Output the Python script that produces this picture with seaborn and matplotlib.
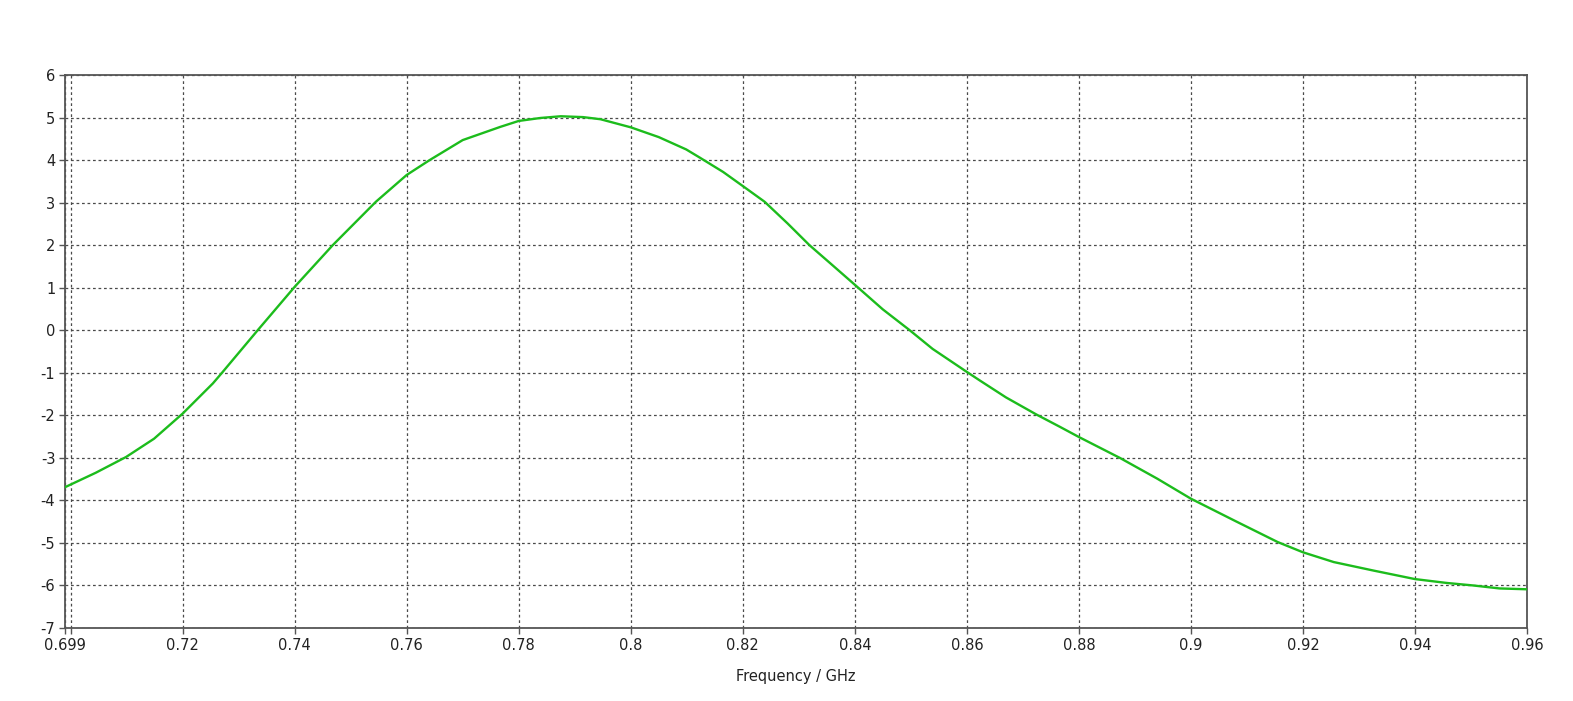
import numpy as np
import pandas as pd
import matplotlib
matplotlib.use("Agg")
import matplotlib.pyplot as plt
import seaborn as sns

# curve
freq_ghz = [0.699, 0.7045, 0.7099, 0.7149, 0.72, 0.7254, 0.7269, 0.7334, 0.74,
            0.7468, 0.7545, 0.76, 0.7641, 0.770, 0.7767, 0.78, 0.7839, 0.7875,
            0.7915, 0.7946, 0.80, 0.805, 0.8099, 0.8123, 0.8165, 0.82, 0.8239,
            0.8280, 0.8319, 0.8360, 0.8406, 0.8450, 0.8498, 0.8539, 0.86, 0.8623,
            0.8670, 0.8724, 0.8766, 0.88, 0.8873, 0.8940, 0.90, 0.9080, 0.9155,
            0.92, 0.9255, 0.9326, 0.94, 0.9456, 0.9504, 0.9551, 0.96]
value = [-3.69, -3.35, -2.98, -2.55, -1.96, -1.25, -1.02, 0.0, 1.02,
         2.0, 3.02, 3.65, 4.0, 4.47, 4.78, 4.92, 4.99, 5.03,
         5.01, 4.96, 4.77, 4.54, 4.25, 4.06, 3.72, 3.39, 3.02,
         2.51, 2.0, 1.53, 1.0, 0.49, 0.0, -0.44, -0.98, -1.18,
         -1.58, -1.98, -2.27, -2.51, -3.0, -3.49, -3.96, -4.49, -4.98,
         -5.22, -5.45, -5.65, -5.85, -5.94, -6.0, -6.07, -6.09]

x_ticks = [0.699, 0.7, 0.72, 0.74, 0.76, 0.78, 0.8, 0.82, 0.84, 0.86, 0.88,
           0.9, 0.92, 0.94, 0.96]
x_tick_labels = ["0.699", "", "0.72", "0.74", "0.76", "0.78", "0.8", "0.82",
                 "0.84", "0.86", "0.88", "0.9", "0.92", "0.94", "0.96"]
y_ticks = list(range(-7, 7))

sns.set_style("white")
plt.rcParams["font.family"] = ["DejaVu Sans"]

df = pd.DataFrame({"Frequency": freq_ghz, "Value": value})

fig = plt.figure(figsize=(15.73, 7.01), dpi=100)
ax = fig.add_axes([65 / 1573, 1 - 628 / 701, (1527 - 65) / 1573, (628 - 75) / 701])

sns.lineplot(data=df, x="Frequency", y="Value", ax=ax, color="#1cbc1c",
             linewidth=1.7, zorder=3)

ax.set_xlim(0.699, 0.96)
ax.set_ylim(-7, 6)
ax.set_xticks(x_ticks)
ax.set_xticklabels(x_tick_labels)
ax.set_yticks(y_ticks)
ax.set_yticklabels([str(t) for t in y_ticks])

ax.grid(True, color="#4a4a4a", linestyle=(0, (2.2, 2.2)), linewidth=0.9)
for s in ax.spines.values():
    s.set_color("#555555")
    s.set_linewidth(1.3)
    s.set_visible(True)

ax.tick_params(axis="both", direction="out", length=4, width=1, color="#555555",
               labelsize=10.5, labelcolor="#222222", pad=3, bottom=True, left=True)
ax.set_xlabel("Frequency / GHz", fontsize=10.5, color="#222222", labelpad=12)
ax.set_ylabel("")

fig.savefig("out.png", dpi=100, facecolor="white")
